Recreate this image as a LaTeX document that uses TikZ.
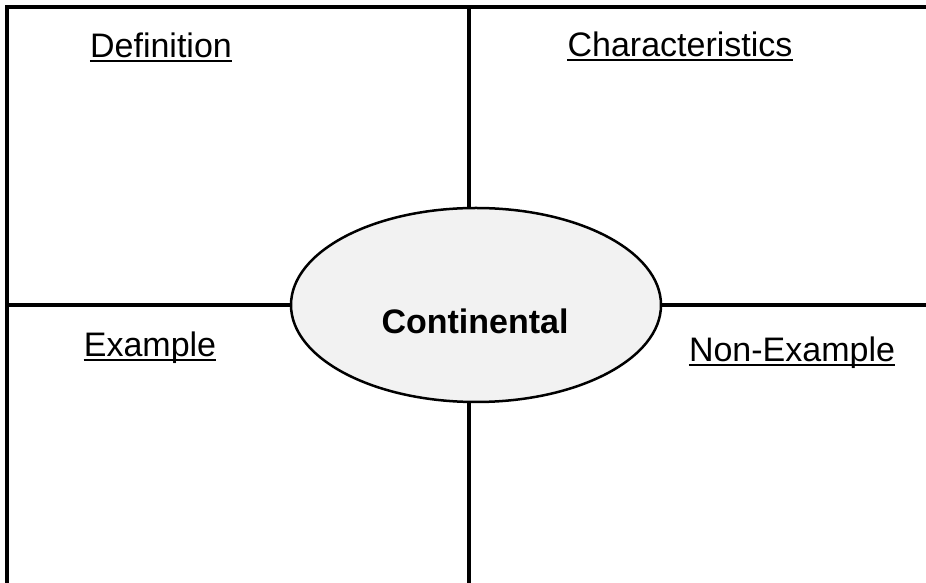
\documentclass[tikz,border=0pt]{standalone}
\usepackage{fontspec}
\setmainfont{Liberation Sans}
\usetikzlibrary{shapes.geometric}

\begin{document}
\begin{tikzpicture}[line cap=rect,line join=miter,x=1pt,y=1pt,
  frame/.style={line width=3.5pt},
  heading/.style={font=\fontsize{34}{40}\selectfont,inner sep=0pt,anchor=base},
  under/.style={line width=2pt,line cap=butt}]
\useasboundingbox (0,0) rectangle (926,583);
% outer frame and cross
\coordinate (ntop) at (469,576);
\coordinate (nbot) at (469,-5);
\coordinate (wmid) at (7,278);
\coordinate (emid) at (930,278);
\draw[frame] (930,576) -- (7,576) -- (7,-5);
\draw[frame] (ntop) -- (nbot);
\draw[frame] (wmid) -- (emid);
% centre
\node[ellipse,draw,line width=2.5pt,fill=black!5,minimum width=370pt,minimum height=194pt,inner sep=0pt] (core) at (476,278) {};
\node[heading,font=\fontsize{34}{40}\selectfont\bfseries] (word) at (475,249) {Continental};
% headings
\node[heading] (def) at (161,525) {Definition};
\node[heading] (char) at (680,526) {Characteristics};
\node[heading] (ex) at (150,226) {Example};
\node[heading] (nonex) at (792,221) {Non-Example};
\foreach \n in {def,char,ex,nonex}
  \draw[under] ([yshift=-3.5pt]\n.base west) -- ([yshift=-3.5pt]\n.base east);
\end{tikzpicture}
\end{document}
